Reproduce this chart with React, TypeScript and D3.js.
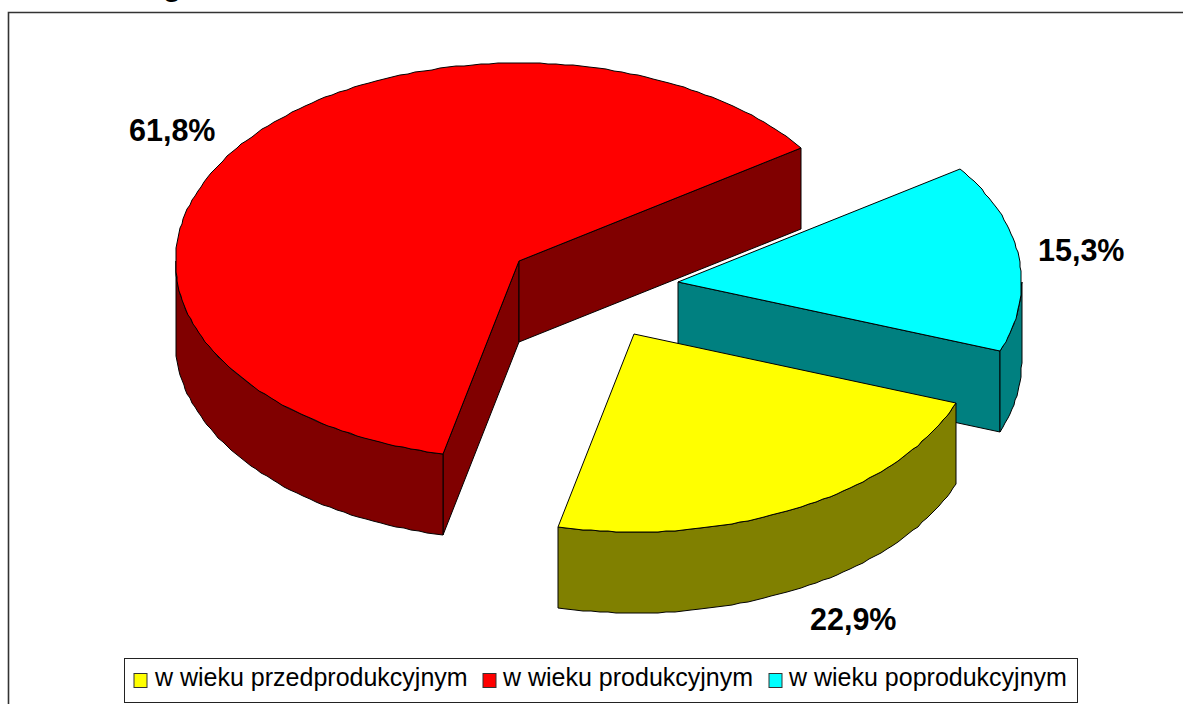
import React from "react";
import * as d3 from "d3";

const categories = ["w wieku przedprodukcyjnym", "w wieku produkcyjnym", "w wieku poprodukcyjnym"];
const shares = [22.9, 61.8, 15.3];
const shareLabels = ["22,9%", "61,8%", "15,3%"];
const topColors = ["#ffff00", "#ff0000", "#00ffff"];
const wallColors = ["#808000", "#800000", "#008080"];

const W = 1183, H = 704;
const RX = 343.5, RY = 198, DEPTH = 81;
const START_DEG = 110.3;
const apexes = [[634, 334], [519, 261], [678, 282]];
const labelPos = [[810, 630], [129, 141], [1038, 261]];
const drawOrder = [1, 2, 0];
const rad = Math.PI / 180;

const pie = d3.pie<number>().sort(null).startAngle(START_DEG * rad).endAngle((START_DEG + 360) * rad);
const arcs = pie(shares);

type P = [number, number];
const line = d3.line<P>();

function App() {
  const pt = (i: number, a: number, dz = 0): P => {
    const [cx, cy] = apexes[i];
    return [Math.round(cx + RX * Math.sin(a)), Math.round(cy - RY * Math.cos(a) + dz)];
  };
  const arcPts = (i: number, a0: number, a1: number, dz = 0): P[] => {
    const n = Math.max(2, Math.ceil(Math.abs(a1 - a0) / (1.4 * rad)));
    return d3.range(n + 1).map((k) => pt(i, a0 + ((a1 - a0) * k) / n, dz));
  };
  const shapes = drawOrder.map((i) => {
    // bring a slice that starts past a full turn back into the first turn
    const turn = arcs[i].startAngle >= 2 * Math.PI ? 2 * Math.PI : 0;
    const a0 = arcs[i].startAngle - turn, a1 = arcs[i].endAngle - turn;
    const apex = apexes[i] as P;
    const below = (p: P): P => [p[0], p[1] + DEPTH];
    const walls: P[][] = [];
    if (Math.sin(a0) < 0) walls.push([apex, pt(i, a0), below(pt(i, a0)), below(apex)]);
    if (Math.sin(a1) > 0) walls.push([apex, pt(i, a1), below(pt(i, a1)), below(apex)]);
    const f0 = Math.max(a0, 90 * rad), f1 = Math.min(a1, 270 * rad);
    if (f1 > f0) walls.push([...arcPts(i, f0, f1), ...arcPts(i, f1, f0, DEPTH)]);
    const top: P[] = [apex, ...arcPts(i, a0, a1)];
    return (
      <g key={i} stroke="#000" strokeWidth={1} strokeLinejoin="round">
        {walls.map((w, k) => (
          <path key={k} d={line(w) + "Z"} fill={wallColors[i]} />
        ))}
        <path d={line(top) + "Z"} fill={topColors[i]} />
      </g>
    );
  });

  const legendX = [134, 483, 769];
  const legendTextX = [155, 503, 789];

  return (
    <svg width={W} height={H} style={{ position: "absolute", left: 0, top: 0, background: "#fff" }} fontFamily="'Liberation Sans', Arial, sans-serif">
      <text x={163} y={-4} fontSize={30} fontWeight="bold" fill="#000">g</text>
      <path d={`M${W},12.5H8.5V${H}`} fill="none" stroke="#333" strokeWidth={1.6} />
      {shapes}
      {shareLabels.map((t, i) => (
        <text key={t} x={labelPos[i][0]} y={labelPos[i][1]} fontSize={30.5} fontWeight="bold" fill="#000">{t}</text>
      ))}
      <rect x={124.5} y={658.5} width={953} height={44} fill="#fff" stroke="#222" strokeWidth={1} />
      {categories.map((c, i) => (
        <g key={c}>
          <rect x={legendX[i]} y={673.5} width={13} height={14} fill={topColors[i]} stroke="#333" strokeWidth={1} />
          <text x={legendTextX[i]} y={686} fontSize={25} fill="#000">{c}</text>
        </g>
      ))}
    </svg>
  );
}

export default App;
